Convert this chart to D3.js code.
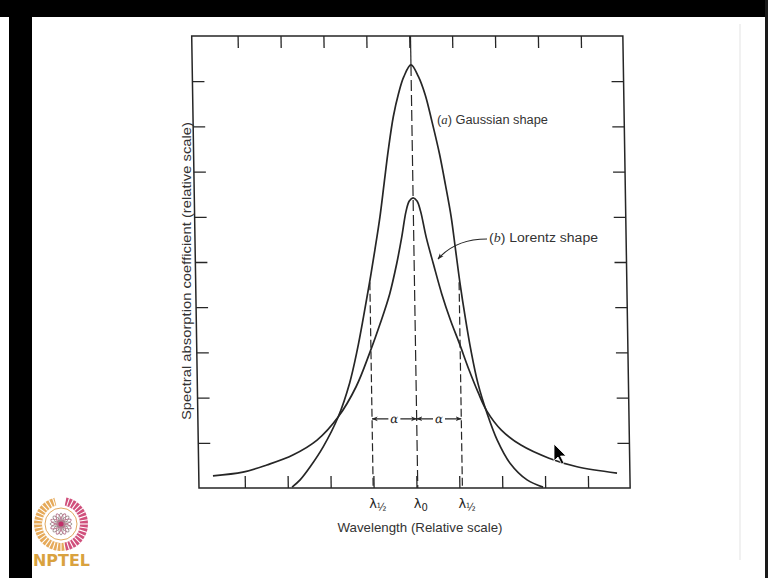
<!DOCTYPE html>
<html>
<head>
<meta charset="utf-8">
<script src="https://cdn.jsdelivr.net/npm/d3@7"></script>
<style>
  html, body { margin: 0; padding: 0; background: #fff; }
  svg { display: block; }
</style>
</head>
<body>
<svg id="chart" width="768" height="578"></svg>
<script>
// Line profiles, wavelength and absorption coefficient on relative scales
const gaussX = [2.10, 2.29, 2.53, 2.84, 3.20, 3.48, 3.67, 3.83, 3.98, 4.12, 4.25, 4.36, 4.47, 4.60, 4.73, 4.86, 5.03,
                5.20, 5.35, 5.50, 5.66, 5.79, 5.91, 6.00, 6.09, 6.20, 6.32, 6.47, 6.67, 6.90, 7.19, 7.58, 7.95];
const gaussY = [0.02, 0.18, 0.47, 0.91, 1.57, 2.32, 3.05, 3.79, 4.53, 5.27, 6.00, 6.74, 7.48, 8.22, 8.73, 9.10, 9.36,
                9.10, 8.70, 8.10, 7.40, 6.70, 6.00, 5.27, 4.54, 3.78, 3.05, 2.32, 1.66, 1.06, 0.55, 0.18, 0.02];
const lorentzX = [0.26, 0.96, 1.52, 2.13, 2.70, 3.20, 3.63, 3.96, 4.22, 4.45, 4.62, 4.75, 4.86, 4.94, 5.03,
                  5.12, 5.20, 5.32, 5.48, 5.66, 5.86, 6.05, 6.27, 6.47, 6.67, 7.00, 7.45, 8.10, 8.75, 9.68];
const lorentzY = [0.27, 0.35, 0.51, 0.73, 1.06, 1.57, 2.24, 2.99, 3.65, 4.30, 4.95, 5.55, 6.12, 6.35, 6.42,
                  6.35, 6.12, 5.55, 4.95, 4.30, 3.70, 3.21, 2.61, 2.12, 1.70, 1.28, 0.95, 0.66, 0.47, 0.33];

// Axis ticks (unlabelled, drawn inward on all four sides)
const xTicks = [1, 2, 3, 4, 5, 6, 7, 8, 9];
const yTicks = [1, 2, 3, 4, 5, 6, 7, 8, 9];
const frameX = [-0.07, 9.98];
const frameY = [0, 10];

// Line centre, half-width positions and the level of the width arrows
const lambda0 = 5.03;
const lambdaHalf = [3.99, 6.07];
const halfTop = 4.55;
const arrowLevel = 1.53;

const xTitle = "Wavelength (Relative scale)";
const yTitle = "Spectral absorption coefficient (relative scale)";

const ink = "#262626";
const svg = d3.select("#chart");

// page furniture
svg.append("rect").attr("width", 768).attr("height", 578).attr("fill", "#fff");
svg.append("rect").attr("x", 0).attr("y", 0).attr("width", 768).attr("height", 17).attr("fill", "#000");
svg.append("rect").attr("x", 9).attr("y", 0).attr("width", 23).attr("height", 578).attr("fill", "#000");
svg.append("line").attr("x1", 740).attr("x2", 740).attr("y1", 24).attr("y2", 560)
  .attr("stroke", "#ececec").attr("stroke-width", 1.5);
svg.append("rect").attr("x", 765).attr("y", 0).attr("width", 3).attr("height", 578).attr("fill", "#1a1a1a");

const defs = svg.append("defs");
defs.append("marker").attr("id", "tip").attr("viewBox", "0 0 10 10")
  .attr("refX", 9.5).attr("refY", 5).attr("markerWidth", 6).attr("markerHeight", 6)
  .attr("markerUnits", "userSpaceOnUse").attr("orient", "auto")
  .append("path").attr("d", "M0,1 L10,5 L0,9 L3,5 Z").attr("fill", ink);

// plot area: the printed frame leans very slightly, so the group is sheared about its baseline
const x = d3.scaleLinear().domain([0, 10]).range([202, 631]);
const y = d3.scaleLinear().domain([0, 10]).range([0, -452]);
const plot = svg.append("g").attr("transform", "translate(0,488) skewX(0.925)");

plot.append("rect")
  .attr("x", x(frameX[0])).attr("y", y(frameY[1]))
  .attr("width", x(frameX[1]) - x(frameX[0])).attr("height", y(frameY[0]) - y(frameY[1]))
  .attr("fill", "none").attr("stroke", ink).attr("stroke-width", 1.5);

const tickLen = 12;
function styleAxis(g) {
  g.select(".domain").remove();
  g.selectAll(".tick line").attr("stroke", ink).attr("stroke-width", 1.3);
}
plot.append("g").attr("transform", `translate(0,${y(0)})`)
  .call(d3.axisBottom(x).tickValues(xTicks).tickSizeInner(-tickLen).tickSizeOuter(0).tickFormat(""))
  .call(styleAxis);
plot.append("g").attr("transform", `translate(0,${y(10)})`)
  .call(d3.axisTop(x).tickValues(xTicks).tickSizeInner(-tickLen).tickSizeOuter(0).tickFormat(""))
  .call(styleAxis);
plot.append("g").attr("transform", `translate(${x(frameX[0])},0)`)
  .call(d3.axisLeft(y).tickValues(yTicks).tickSizeInner(-tickLen).tickSizeOuter(0).tickFormat(""))
  .call(styleAxis);
plot.append("g").attr("transform", `translate(${x(frameX[1])},0)`)
  .call(d3.axisRight(y).tickValues(yTicks).tickSizeInner(-tickLen).tickSizeOuter(0).tickFormat(""))
  .call(styleAxis);

// line centre: solid above the Gaussian peak, long dashes below
const peak = d3.max(gaussY);
plot.append("line").attr("x1", x(lambda0)).attr("x2", x(lambda0))
  .attr("y1", y(10)).attr("y2", y(peak))
  .attr("stroke", ink).attr("stroke-width", 1.2);
plot.append("line").attr("x1", x(lambda0)).attr("x2", x(lambda0))
  .attr("y1", y(peak)).attr("y2", y(0))
  .attr("stroke", ink).attr("stroke-width", 1.2).attr("stroke-dasharray", "11,4");

// half-width markers
plot.selectAll("line.half").data(lambdaHalf).join("line").attr("class", "half")
  .attr("x1", d => x(d)).attr("x2", d => x(d))
  .attr("y1", y(halfTop)).attr("y2", y(0))
  .attr("stroke", ink).attr("stroke-width", 1.2).attr("stroke-dasharray", "8,3.5");

// profile curves
const line = d3.line().x(d => x(d[0])).y(d => y(d[1])).curve(d3.curveCatmullRom.alpha(0.5));
plot.append("path").datum(d3.zip(gaussX, gaussY)).attr("d", line)
  .attr("fill", "none").attr("stroke", ink).attr("stroke-width", 1.7);
plot.append("path").datum(d3.zip(lorentzX, lorentzY)).attr("d", line)
  .attr("fill", "none").attr("stroke", ink).attr("stroke-width", 1.7);

// width arrows  |<- α ->|<- α ->|
const spans = [[lambdaHalf[0], lambda0], [lambda0, lambdaHalf[1]]];
const ay = y(arrowLevel);
spans.forEach(([a, b]) => {
  const mid = (x(a) + x(b)) / 2;
  [[mid - 6, x(a)], [mid + 6, x(b)]].forEach(([from, to]) => {
    plot.append("line").attr("x1", from).attr("x2", to).attr("y1", ay).attr("y2", ay)
      .attr("stroke", ink).attr("stroke-width", 1.1).attr("marker-end", "url(#tip)");
  });
  plot.append("text").attr("x", mid).attr("y", ay).attr("dy", "0.32em")
    .attr("text-anchor", "middle").attr("font-family", "DejaVu Serif, serif")
    .attr("font-style", "italic").attr("font-size", 12).attr("fill", ink).text("α");
});

// wavelength labels under the axis
const lamLabels = [
  { at: lambdaHalf[0], sub: "½" },
  { at: lambda0, sub: "0" },
  { at: lambdaHalf[1], sub: "½" }
];
lamLabels.forEach(l => {
  const t = svg.append("text").attr("x", x(l.at) - 4).attr("y", 508)
    .attr("font-family", "DejaVu Sans, sans-serif").attr("font-size", 13).attr("fill", ink);
  t.append("tspan").text("λ");
  t.append("tspan").attr("font-size", 10).attr("dy", 3).text(l.sub);
});

// axis titles
svg.append("text").attr("x", 420).attr("y", 532).attr("text-anchor", "middle")
  .attr("font-family", "Liberation Sans, Arial, sans-serif").attr("font-size", 13)
  .attr("fill", "#333").attr("textLength", 165).attr("lengthAdjust", "spacingAndGlyphs").text(xTitle);
svg.append("text").attr("transform", "translate(186.5,271) rotate(-90)").attr("dy", "0.35em")
  .attr("text-anchor", "middle").attr("font-family", "Liberation Sans, Arial, sans-serif")
  .attr("font-size", 13).attr("fill", "#333").attr("textLength", 298)
  .attr("lengthAdjust", "spacingAndGlyphs").text(yTitle);

// curve annotations
function annotate(xp, yp, key, label, len) {
  const t = svg.append("text").attr("x", xp).attr("y", yp)
    .attr("font-family", "Liberation Sans, Arial, sans-serif").attr("font-size", 12)
    .attr("fill", "#333").attr("textLength", len).attr("lengthAdjust", "spacingAndGlyphs");
  t.append("tspan").text("(");
  t.append("tspan").attr("font-style", "italic").attr("font-family", "Liberation Serif, serif").text(key);
  t.append("tspan").text(")  " + label);
}
annotate(437, 124, "a", "Gaussian shape", 111);
annotate(489, 242, "b", "Lorentz shape", 109);
svg.append("path").attr("d", "M487,239 C470,239 452,243 438,259")
  .attr("fill", "none").attr("stroke", ink).attr("stroke-width", 1.2).attr("marker-end", "url(#tip)");

// pointer
svg.append("path").attr("transform", "translate(554,444)")
  .attr("d", "M0,0 L0,17 L4,13 L7.5,20 L10,19 L6.5,12 L12,12 Z")
  .attr("fill", "#000").attr("stroke", "#fff").attr("stroke-width", 0.8);

// NPTEL emblem: hatched two-colour ring around a flower
const logo = svg.append("g").attr("transform", "translate(61,524)");
const ringArc = d3.arc();
logo.append("path").attr("d", ringArc({ innerRadius: 19, outerRadius: 27, startAngle: -0.25, endAngle: -3.5 }))
  .attr("fill", "#e6aa5a");
logo.append("path").attr("d", ringArc({ innerRadius: 19, outerRadius: 27, startAngle: 0.2, endAngle: 2.95 }))
  .attr("fill", "#d0507c");
d3.range(0, 360, 9).forEach(a => {
  const r = a * Math.PI / 180;
  logo.append("line").attr("x1", 19 * Math.sin(r)).attr("y1", -19 * Math.cos(r))
    .attr("x2", 27.5 * Math.sin(r)).attr("y2", -27.5 * Math.cos(r))
    .attr("stroke", "#fff").attr("stroke-width", 1.1);
});
logo.append("circle").attr("r", 16).attr("fill", "#fff").attr("stroke", "#e0a860").attr("stroke-width", 1);
d3.range(8).forEach(i => {
  logo.append("ellipse").attr("rx", 2.6).attr("ry", 11).attr("transform", `rotate(${i * 22.5})`)
    .attr("fill", "none").attr("stroke", i % 2 ? "#b9788f" : "#9a8c8c").attr("stroke-width", 0.9);
});
logo.append("circle").attr("r", 2.5).attr("fill", "#c2306a");
svg.append("text").attr("x", 33).attr("y", 566).attr("font-family", "DejaVu Sans, sans-serif")
  .attr("font-weight", "bold").attr("font-size", 15).attr("fill", "#d9a23f")
  .attr("textLength", 57).attr("lengthAdjust", "spacingAndGlyphs").text("NPTEL");
</script>
</body>
</html>
